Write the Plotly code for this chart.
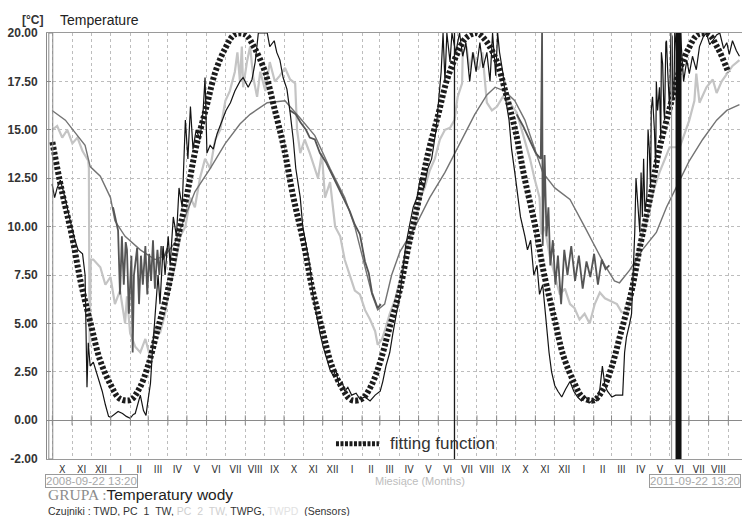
import pandas as pd
import plotly.graph_objects as go

# ---------------- data ----------------
START = pd.Timestamp("2008-09-22 13:20")
END = pd.Timestamp("2011-09-22 13:20")

month_labels = ["X", "XI", "XII",
                "I", "II", "III", "IV", "V", "VI", "VII", "VIII", "IX", "X", "XI", "XII",
                "I", "II", "III", "IV", "V", "VI", "VII", "VIII", "IX", "X", "XI", "XII",
                "I", "II", "III", "IV", "V", "VI", "VII", "VIII"]

y_ticks = [-2.0, 0.0, 2.5, 5.0, 7.5, 10.0, 12.5, 15.0, 17.5, 20.0]

# day offset from start, temperature [°C]
twd = [(8,12.2),(12,11.5),(16,12.0),(21,12.4),(26,11.8),(30,11.2),(37,10.3),(43,9.4),(49,8.8),(56,8.6),
       (60,7.5),(62,4.5),(63,1.7),(65,4.0),(68,2.8),(73,3.0),(78,2.5),(82,2.0),(87,1.5),(92,0.8),
       (97,0.2),(100,0.15),(106,0.3),(112,0.45),(119,0.35),(125,0.2),(131,0.1),(136,0.3),(139,0.35),(144,1.0),
       (147,1.3),(152,0.5),(156,0.25),(159,1.0),(163,1.9),(166,3.5),(170,5.5),(175,7.5),(178,6.0),(183,9.0),
       (186,7.5),(191,9.5),(194,8.0),(199,10.5),(204,9.5),(208,12.0),(213,11.0),(218,15.5),(222,13.5),(226,16.2),
       (230,14.0),(235,15.0),(241,14.5),(246,16.0),(249,17.7),(252,13.8),(257,14.2),(262,14.0),(268,14.8),(276,15.5),
       (282,16.0),(289,16.4),(296,17.0),(304,17.5),(309,17.7),(317,17.2),(323,17.6),(328,18.5),(333,20.0),(339,20.0),
       (347,20.0),(351,19.3),(358,19.6),(362,19.0),(367,18.6),(372,17.7),(378,17.1),(383,15.9),(388,14.5),(392,13.0),
       (399,11.5),(403,10.0),(408,9.0),(414,8.0),(419,6.5),(424,5.5),(430,4.5),(435,3.8),(440,3.2),(446,2.6),
       (451,2.3),(455,2.6),(460,1.8),(465,2.0),(469,1.5),(474,1.7),(480,1.3),(487,1.4),(493,1.1),(501,1.2),
       (509,1.0),(517,1.3),(525,1.5),(529,2.0),(534,2.8),(540,3.5),(545,4.5),(550,5.5),(556,6.5),(561,7.8),
       (565,9.0),(572,10.2),(577,11.0),(583,11.5),(588,12.5),(594,12.0),(600,13.0),(606,13.5),(613,15.0),(617,16.5),
       (621,18.0),(624,20.0),(627,17.5),(630,20.0),(635,18.5),(638,20.0),(644,19.0),(650,20.0),(655,18.8),(660,19.5),
       (666,17.5),(671,19.0),(676,18.0),(682,19.5),(687,18.2),(693,19.0),(698,17.5),(702,20.0),(707,17.8),(710,20.0),
       (713,19.0),(718,18.0),(723,16.5),(728,15.5),(732,14.0),(737,12.8),(742,11.5),(746,10.5),(753,9.5),(757,8.8),
       (762,9.3),(767,7.5),(772,8.0),(776,6.5),(781,7.0),(786,5.2),(791,3.5),(795,2.5),(800,1.8),(805,1.5),
       (811,1.2),(817,1.6),(824,2.0),(830,1.5),(836,1.2),(842,1.0),(849,1.2),(855,0.9),(861,1.1),(866,1.0),
       (871,1.6),(875,2.8),(879,1.8),(883,1.5),(890,1.2),(896,1.3),(902,1.3),(907,1.3),(910,3.5),(913,4.3),
       (918,5.0),(921,5.5),(924,8.0),(926,9.7),(928,12.5),(931,11.2),(934,9.7),(936,12.8),(938,10.5),(940,13.5),
       (942,10.8),(945,11.5),(947,15.0),(949,14.0),(951,12.0),(952,16.0),(954,16.7),(957,15.0),(959,13.0),(960,17.5),
       (962,16.0),(965,17.2),(967,14.5),(968,19.0),(970,18.4),(972,16.0),(973,15.5),(975,19.5),(976,19.6),(978,18.0),
       (979,17.0),(981,16.0),(983,20.0),(985,19.8),(986,16.5),(988,17.0),(989,20.0),(991,19.5),(994,18.0),(996,17.0),
       (998,20.0),(1003,17.5),(1008,18.6),(1012,17.9),(1017,18.8),(1023,18.1),(1028,19.3),(1034,19.8),(1039,20.0),(1044,19.4),
       (1049,19.6),(1055,19.9),(1060,20.0),(1066,19.2),(1071,19.5),(1075,18.9),(1080,19.6),(1086,19.1),(1091,18.8)]

pc1_tw = [(104,11.0),(108,10.3),(112,9.8),(115,6.5),(118,9.5),(121,7.0),(124,9.2),(126,8.8),(129,5.5),(133,8.5),
          (135,3.5),(137,7.5),(142,8.9),(145,6.0),(148,8.5),(151,7.0),(155,9.0),(158,6.5),(161,8.6),(164,7.2),
          (167,9.3),(170,6.8),(174,8.8),(177,7.5),(180,9.0),(183,8.3),(186,8.6),(190,8.9),(None,None),
          (383,16.0),(392,15.8),(399,15.4),(408,15.0),(414,14.6),(422,14.5),(430,13.8),(440,13.3),(446,12.9),(455,12.3),
          (462,11.8),(469,11.4),(477,10.8),(485,10.1),(493,9.6),(501,8.2),(507,7.6),(512,6.6),(517,6.1),(521,5.8),
          (526,6.0),(None,None),
          (740,15.8),(750,15.2),(760,14.5),(770,13.8),(778,13.5),(780,20.0),(781,9.0),(784,13.7),(787,9.5),(790,11.0),
          (793,8.0),(797,9.3),(801,7.0),(805,8.5),(810,6.0),(815,8.8),(820,7.5),(826,9.0),(832,7.2),(838,8.5),
          (844,6.8),(850,8.2),(856,7.4),(862,8.6),(868,7.0),(874,8.3),(880,7.8),(886,8.0)]

pc2_tw = [(8,15.0),(16,15.2),(24,14.6),(32,15.0),(40,14.3),(48,14.6),(56,13.9),(65,13.4),(66,13.0),(67,3.8),
          (69,8.3),(73,8.3),(84,7.9),(92,7.0),(100,7.4),(107,6.0),(115,6.7),(123,5.0),(126,6.4),(131,4.5),
          (139,3.8),(147,3.5),(155,4.2),(163,3.2),(170,4.8),(178,4.5),(186,5.5),(194,7.0),(202,8.0),(210,9.5),
          (218,10.0),(226,11.5),(233,11.0),(241,12.5),(249,13.5),(257,13.0),(265,14.5),(273,15.0),(281,16.5),(288,17.0),
          (296,18.0),(300,19.0),(304,17.5),(307,19.3),(309,17.2),(315,18.5),(320,19.3),(325,17.7),(331,16.7),(336,18.0),
          (344,17.0),(351,18.5),(359,17.5),(367,17.8),(375,18.2),(383,17.6),(391,17.4),(394,15.0),(399,13.8),(406,14.5),
          (414,13.8),(419,13.3),(427,12.5),(433,13.8),(438,11.5),(446,12.3),(454,10.0),(462,9.5),(469,8.3),(477,7.5),
          (485,6.7),(493,6.5),(501,5.7),(509,5.2),(517,4.6),(521,3.9),(528,4.2),(532,4.6),(540,5.5),(548,6.2),
          (556,7.2),(564,8.5),(572,9.3),(580,10.2),(587,11.4),(595,12.0),(603,12.9),(611,13.5),(619,14.5),(627,15.0),
          (635,15.1),(642,15.5),(647,16.7),(654,17.4),(655,19.0),(661,19.3),(666,18.1),(671,19.0),(679,18.1),(682,18.3),
          (686,19.0),(693,16.4),(701,16.0),(709,16.2),(718,16.7),(729,16.4),(740,15.9),(750,14.8),(761,13.5),(768,12.5),
          (776,11.5),(779,9.6),(784,10.0),(792,8.5),(800,7.5),(808,6.5),(816,6.8),(824,6.0),(831,5.8),(839,5.2),
          (847,5.5),(855,5.0),(863,6.0),(871,6.6),(879,6.3),(886,6.2),(898,6.0),(905,5.6),(913,5.5),(921,6.5),
          (926,8.0),(934,9.0),(942,10.0),(949,11.0),(957,12.0),(965,12.8),(973,13.5),(981,14.1),(997,14.1),(1004,14.8),
          (1012,15.5),(1020,16.5),(1023,17.9),(1028,16.4),(1039,17.2),(1049,17.6),(1055,16.9),(1063,17.5),(1071,17.9),(1080,18.3),
          (1091,18.6)]

twpg = [(8,16.0),(29,15.5),(48,14.7),(60,14.2),(68,13.1),(84,12.6),(100,11.5),(107,10.3),(123,9.5),(147,8.8),
        (170,8.3),(186,8.5),(202,9.2),(218,10.5),(233,11.8),(257,13.0),(281,14.3),(304,15.3),(320,15.8),(347,16.4),
        (375,16.5),(399,15.6),(422,14.7),(446,13.0),(469,11.5),(485,10.0),(501,8.0),(512,6.5),(521,5.7),(532,6.0),
        (543,7.5),(556,8.7),(580,10.0),(603,11.5),(627,12.8),(650,14.3),(674,15.8),(693,16.8),(706,17.2),(721,17.0),
        (737,16.5),(753,15.5),(768,14.0),(781,12.8),(800,12.0),(824,11.4),(847,10.0),(863,9.0),(879,8.0),(894,7.2),
        (902,7.1),(918,7.75),(938,8.8),(960,9.7),(976,11.0),(997,12.4),(1012,13.4),(1033,14.5),(1055,15.5),(1071,16.0),
        (1091,16.3)]

# fitting function, twice a month from 2008-10-01
fit_vals = [14.37, 11.99, 9.50, 7.09, 4.91, 3.12, 1.82, 1.12, 1.05, 1.64, 2.84, 4.58, 6.72, 9.12, 11.63, 14.05,
            16.22, 18.01, 19.25, 19.92, 19.92, 19.26, 18.00, 16.22, 14.04, 11.63, 9.12, 6.72, 4.58, 2.84, 1.64, 1.05,
            1.11, 1.76, 2.96, 4.63, 6.66, 8.96, 11.34, 13.66, 15.79, 17.61, 18.94, 19.76, 19.99, 19.60, 18.55, 16.94,
            14.88, 12.51, 9.99, 7.51, 5.25, 3.34, 1.95, 1.17, 1.03, 1.56, 2.73, 4.44, 6.58, 8.99, 11.51, 13.96,
            16.16, 17.96, 19.24, 19.92, 19.92, 19.25, 17.97]

event_days = [642, 984, 995]  # vertical event markers (days from start)

# ---------------- helpers ----------------
def to_xy(pairs):
    xs, ys = [], []
    for d, v in pairs:
        xs.append(None if d is None else START + pd.Timedelta(days=d))
        ys.append(v)
    return xs, ys

month_starts = pd.date_range("2008-10-01", periods=len(month_labels) + 1, freq="MS")
month_mids = [month_starts[i] + (month_starts[i + 1] - month_starts[i]) / 2 for i in range(len(month_labels))]
fit_dates = pd.date_range("2008-10-01", periods=len(fit_vals), freq="SMS")

fig = go.Figure()

x, y = to_xy(pc2_tw)
fig.add_trace(go.Scatter(x=x, y=y, mode="lines", name="PC_2_TW",
                         line=dict(color="#c4c4c4", width=2.2), connectgaps=False, hoverinfo="skip"))
x, y = to_xy(twpg)
fig.add_trace(go.Scatter(x=x, y=y, mode="lines", name="TWPG",
                         line=dict(color="#737373", width=1.4), hoverinfo="skip"))
x, y = to_xy(pc1_tw)
fig.add_trace(go.Scatter(x=x, y=y, mode="lines", name="PC_1_TW",
                         line=dict(color="#555555", width=1.8), connectgaps=False, hoverinfo="skip"))
x, y = to_xy(twd)
fig.add_trace(go.Scatter(x=x, y=y, mode="lines", name="TWD",
                         line=dict(color="#141414", width=1.2), hoverinfo="skip"))
fig.add_trace(go.Scatter(x=fit_dates, y=fit_vals, mode="lines", name="fitting function",
                         line=dict(color="#1c1c1c", width=6, dash="3px,2px", shape="spline"),
                         hoverinfo="skip"))
# month ticks on the zero line
fig.add_trace(go.Scatter(x=month_starts, y=[0] * len(month_starts), mode="markers",
                         marker=dict(symbol="line-ns", size=7, line=dict(color="#8a8a8a", width=1)),
                         hoverinfo="skip"))

shapes = []
# vertical event lines
ev_styles = [("#1a1a1a", 1.3), ("#9a9a9a", 1.2), ("#111111", 6)]
for d, (c, w) in zip(event_days, ev_styles):
    t = START + pd.Timedelta(days=d)
    shapes.append(dict(type="line", xref="x", yref="paper", x0=t, x1=t, y0=0, y1=1,
                       line=dict(color=c, width=w)))
# narrow double frame at left axis
shapes.append(dict(type="rect", xref="paper", yref="paper", x0=0.0026, x1=0.0083, y0=0, y1=1,
                   line=dict(color="#8a8a8a", width=1)))
# legend sample
shapes.append(dict(type="line", xref="paper", yref="paper", x0=0.4158, x1=0.4776, y0=0.036, y1=0.036,
                   line=dict(color="#1c1c1c", width=5, dash="3px,1.5px")))

annotations = [
    dict(text="<b>[°C]</b>", xref="paper", yref="paper", x=-0.0035, y=1.0315, xanchor="right", yanchor="middle",
         showarrow=False, font=dict(size=12, color="#333")),
    dict(text="Temperature", xref="paper", yref="paper", x=0.016, y=1.0315, xanchor="left", yanchor="middle",
         showarrow=False, font=dict(size=14, color="#222")),
    dict(text="fitting function", xref="paper", yref="paper", x=0.4905, y=0.037, xanchor="left", yanchor="middle",
         showarrow=False, font=dict(size=17, color="#333")),
    dict(text="2008-09-22 13:20", xref="paper", yref="paper", x=-0.0024, y=-0.0505, xanchor="left", yanchor="middle",
         showarrow=False, font=dict(size=11.5, color="#a8a8a8"), bordercolor="#9a9a9a", borderwidth=1, borderpad=0,
         bgcolor="white"),
    dict(text="Miesiące (Months)", xref="paper", yref="paper", x=0.469, y=-0.0505, xanchor="left", yanchor="middle",
         showarrow=False, font=dict(size=11, color="#bdbdbd")),
    dict(text="2011-09-22 13:20", xref="paper", yref="paper", x=0.9985, y=-0.0505, xanchor="right", yanchor="middle",
         showarrow=False, font=dict(size=11.5, color="#a8a8a8"), bordercolor="#9a9a9a", borderwidth=1, borderpad=0,
         bgcolor="white"),
    dict(text="<span style='font-family:Liberation Serif, DejaVu Serif, serif;color:#8c8c8c'>GRUPA :</span>Temperatury wody",
         xref="paper", yref="paper", x=-0.0015, y=-0.0845, xanchor="left", yanchor="middle",
         showarrow=False, font=dict(size=15.5, color="#222")),
    dict(text="Czujniki : TWD, PC_1_TW, <span style='color:#cfcfcf'>PC_2_TW,</span> TWPG, "
              "<span style='color:#e2e2e2'>TWPD</span>  (Sensors)",
         xref="paper", yref="paper", x=-0.0015, y=-0.1215, xanchor="left", yanchor="middle",
         showarrow=False, font=dict(size=10.5, color="#333")),
]

fig.update_layout(
    width=742, height=516,
    margin=dict(l=47, r=0, t=33, b=57, pad=0),
    paper_bgcolor="white", plot_bgcolor="white",
    showlegend=False,
    font=dict(family="Liberation Sans, Arial, sans-serif", color="#333"),
    shapes=shapes, annotations=annotations,
    xaxis=dict(type="date", range=[START, END], tickmode="array", tickvals=month_mids, ticktext=month_labels,
               ticks="", showgrid=False, zeroline=False, showline=True, mirror=True,
               linecolor="#9a9a9a", linewidth=1, automargin=False, ticklabelstandoff=0,
               tickfont=dict(size=10.5, color="#333",
                             family="Liberation Sans Narrow, DejaVu Sans Condensed, Liberation Sans, sans-serif"),
               minor=dict(tickmode="array", tickvals=list(month_starts), showgrid=True,
                          gridcolor="#bdbdbd", griddash="dot", gridwidth=1, ticks="")),
    yaxis=dict(range=[-2, 20], tickmode="array", tickvals=y_ticks, ticktext=[f"{v:.2f}" for v in y_ticks],
               showgrid=True, gridcolor="#bdbdbd", griddash="dot", gridwidth=1,
               zeroline=True, zerolinecolor="#8a8a8a", zerolinewidth=1.3,
               showline=True, linecolor="#8a8a8a", linewidth=1,
               ticks="inside", ticklen=4, tickcolor="#8a8a8a", ticklabelstandoff=6, automargin=False,
               tickfont=dict(size=12, color="#333", weight="bold")),
)

fig.write_html("out.html", config={"displayModeBar": False},
               post_script="document.body.style.margin='0';document.body.style.padding='0';")
